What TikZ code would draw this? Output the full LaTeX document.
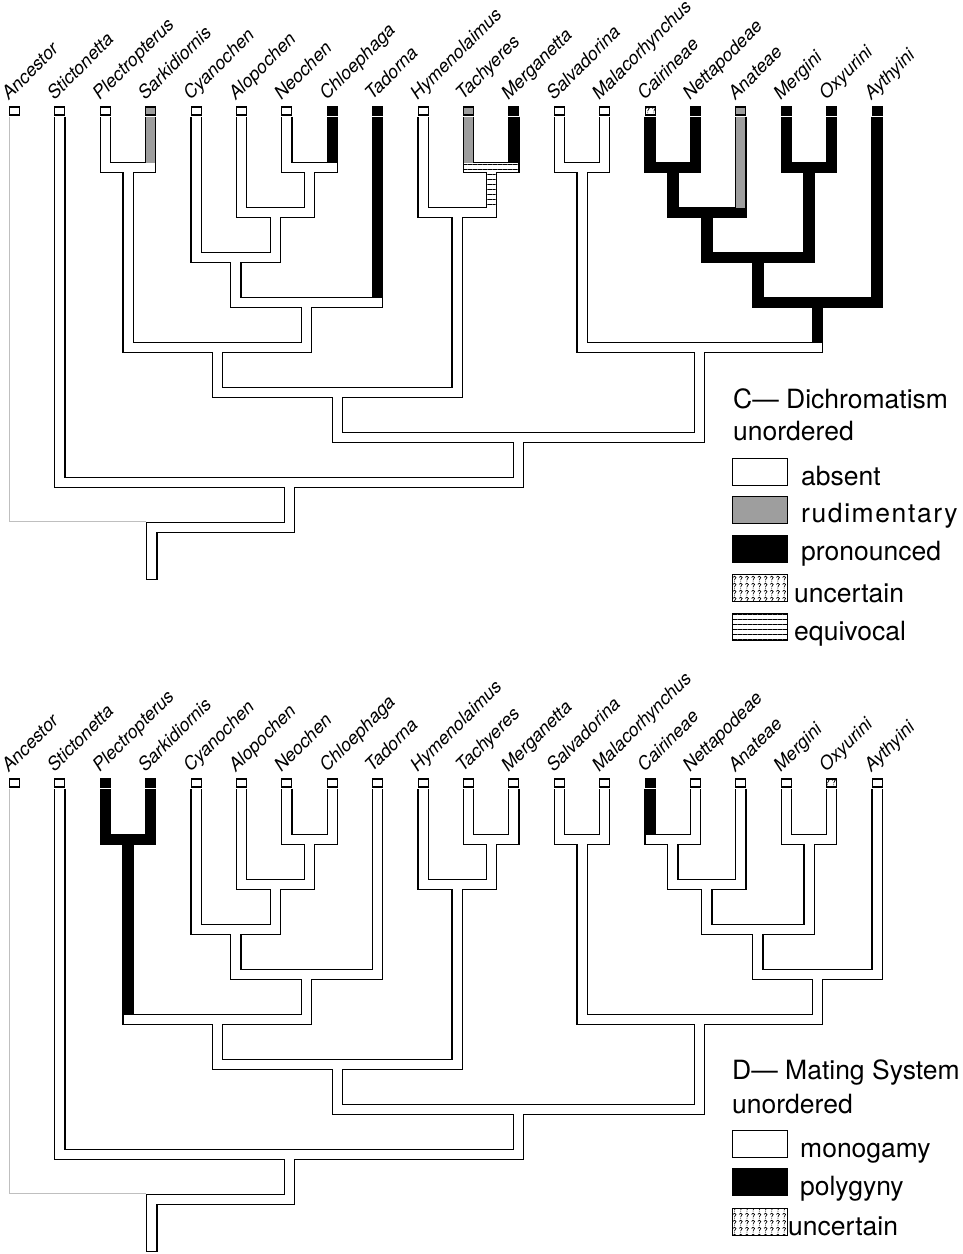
\documentclass[tikz,border=0pt]{standalone}
\usepackage{fontspec}
\setmainfont{TeX Gyre Heros}
\usetikzlibrary{calc,patterns,patterns.meta}

% small question-mark tile for the "uncertain" state
\pgfdeclarepatternformonly{qmarks}{\pgfpoint{-1pt}{-1pt}}{\pgfpoint{7pt}{8pt}}{\pgfpoint{6.2pt}{7pt}}{%
  \pgfsetlinewidth{0.7pt}%
  \pgfpathmoveto{\pgfpoint{1.4pt}{4.6pt}}%
  \pgfpathcurveto{\pgfpoint{1.4pt}{6.2pt}}{\pgfpoint{4.4pt}{6.2pt}}{\pgfpoint{4.4pt}{4.6pt}}%
  \pgfpathcurveto{\pgfpoint{4.4pt}{3.6pt}}{\pgfpoint{2.9pt}{3.5pt}}{\pgfpoint{2.9pt}{2.2pt}}%
  \pgfusepath{stroke}%
  \pgfpathcircle{\pgfpoint{2.9pt}{0.9pt}}{0.5pt}%
  \pgfusepath{fill}%
}

\tikzset{
  tubeout/.style={draw=black,line width=11.4pt,line join=miter,line cap=butt},
  tubein/.style={draw=white,line width=9pt,line join=miter,line cap=butt},
  faint/.style={draw=black!25,line width=0.8pt},
  tipbox/.style={draw=black,line width=1.1pt,fill=white,minimum width=10pt,minimum height=8pt,inner sep=0pt,outer sep=0pt},
  taxon/.style={rotate=45,anchor=base west,inner sep=0pt,font=\fontsize{18.2}{20}\selectfont\itshape},
  legtext/.style={anchor=base west,inner sep=0pt,font=\fontsize{26.5}{30}\selectfont},
  legbox/.style={draw=black,line width=1pt,minimum width=55pt,minimum height=27pt,inner sep=0pt,outer sep=0pt,anchor=north west},
  rud/.style={fill=black!38},
  pron/.style={fill=black},
  unc/.style={preaction={fill=white},pattern=qmarks,pattern color=black},
  equiv/.style={preaction={fill=white},pattern={Lines[angle=0,distance=5pt,line width=0.9pt]},pattern color=black},
}

% tips, labels and branch points of one cladogram; #2 shifts it down
\newcommand\maketree[2]{%
  \foreach \i/\x/\nm in {0/14.5/Ancestor,1/59.9/Stictonetta,2/105.3/Plectropterus,3/150.7/Sarkidiornis,
      4/196.1/Cyanochen,5/241.5/Alopochen,6/286.9/Neochen,7/332.3/Chloephaga,8/377.7/Tadorna,
      9/423.1/Hymenolaimus,10/468.5/Tachyeres,11/513.9/Merganetta,12/559.3/Salvadorina,
      13/604.7/Malacorhynchus,14/650.1/Cairineae,15/695.5/Nettapodeae,16/740.9/Anateae,
      17/786.3/Mergini,18/831.7/Oxyurini,19/877.1/Aythyini}{%
    \coordinate (#1t\i) at (\x,116.5+#2);
    \node[tipbox] (#1b\i) at (\x,111+#2) {};
    \node[taxon] (#1n\i) at (\x-5.5,101+#2) {\nm};
  }
  \foreach \n/\x/\y in {A/128/167.5,B/309.6/167.5,C/275.55/212.5,D/235.8/257.5,E/306.75/302.5,
      F/217.4/347.5,H/491.2/167.5,G/457.15/212.5,I/337.3/392.5,J/582/167.5,K/672.8/167.5,
      L/706.85/212.5,M/809/167.5,N/757.9/257.5,O/817.5/302.5,P/699.75/347.5,Q/518.5/437.5,
      R/289.2/482.5,root/151.85/527.5,end/151.85/580}{%
    \coordinate (#1\n) at (\x,\y+#2);
  }
  \coordinate (#1a0) at (9,116.5+#2);
  \coordinate (#1aj) at (146.15,521.8+#2);
}

% every branch: child down to the parent's level, then across to the parent
\newcommand\treepaths[2]{%
  \foreach \c/\p in {t1/R,t2/A,t3/A,t4/D,t5/C,t6/B,t7/B,t8/E,t9/G,t10/H,t11/H,t12/J,t13/J,
      t14/K,t15/K,t16/L,t17/M,t18/M,t19/O,A/F,B/C,C/D,D/E,E/F,F/I,H/G,G/I,I/Q,J/P,K/L,
      L/N,M/N,N/O,O/P,P/Q,Q/R}{%
    \draw[#2] (#1\c) |- (#1\p);
  }
  \draw[#2] (#1R) |- (#1root) -- (#1end);
}

\newcommand\treebase[1]{%
  \draw[line width=1.2pt] ($(#1end)+(-5.7,-0.6)$) -- ($(#1end)+(5.7,-0.6)$);
  \draw[faint] (#1a0) |- (#1aj);
}

% state fills: vertical part of a branch, horizontal bar of a branch point, tip box
\newcommand\tubeseg[3]{\fill[#1] ($(#2)+(-4.5,0)$) rectangle ($(#2|-#3)+(4.5,-4.5)$);}
\newcommand\tubebar[4]{\fill[#1] ($(#2|-#4)+(-4.5,-4.5)$) rectangle ($(#3|-#4)+(4.5,4.5)$);}
\newcommand\tipfill[2]{\path[draw=black,line width=1.1pt,#1] (#2.south west) rectangle (#2.north east);}

\begin{document}
\begin{tikzpicture}[x=1pt,y=-1pt]
\useasboundingbox[fill=white] (0,0) rectangle (963,1254);

% ---------- C: dichromatism ----------
\maketree{c-}{0}
\treepaths{c-}{tubeout}
\treepaths{c-}{tubein}
\treebase{c-}

\tipfill{rud}{c-b3}   \tubeseg{rud}{c-t3}{c-A}
\tipfill{pron}{c-b7}  \tubeseg{pron}{c-t7}{c-B}
\tipfill{pron}{c-b8}  \tubeseg{pron}{c-t8}{c-E}
\tipfill{rud}{c-b10}  \tubeseg{rud}{c-t10}{c-H}
\tipfill{pron}{c-b11} \tubeseg{pron}{c-t11}{c-H}
\tubebar{equiv}{c-t10}{c-t11}{c-H}
\fill[equiv] ($(c-H)+(-4.5,4.5)$) rectangle ($(c-H|-c-G)+(4.5,-4.5)$);
\tipfill{unc}{c-b14}  \tubeseg{pron}{c-t14}{c-K}
\tipfill{pron}{c-b15} \tubeseg{pron}{c-t15}{c-K}
\tubebar{pron}{c-t14}{c-t15}{c-K} \tubeseg{pron}{c-K}{c-L}
\tipfill{rud}{c-b16}  \tubeseg{rud}{c-t16}{c-L}
\tubebar{pron}{c-K}{c-t16}{c-L}   \tubeseg{pron}{c-L}{c-N}
\tipfill{pron}{c-b17} \tubeseg{pron}{c-t17}{c-M}
\tipfill{pron}{c-b18} \tubeseg{pron}{c-t18}{c-M}
\tubebar{pron}{c-t17}{c-t18}{c-M} \tubeseg{pron}{c-M}{c-N}
\tubebar{pron}{c-L}{c-M}{c-N}     \tubeseg{pron}{c-N}{c-O}
\tipfill{pron}{c-b19} \tubeseg{pron}{c-t19}{c-O}
\tubebar{pron}{c-N}{c-t19}{c-O}   \tubeseg{pron}{c-O}{c-P}

% legend C
\node[legtext] (c-title) at (733,408) {C— Dichromatism};
\node[legtext] (c-sub) at (733,440) {unordered};
\node[legbox,fill=white] (c-k1) at (732,458.5) {};
\node[legtext] (c-l1) at (801,485) {absent};
\node[legbox,rud] (c-k2) at (732,496.5) {};
\node[legtext] (c-l2) at (801,522) {\addfontfeature{LetterSpace=6}rudimentary};
\node[legbox,pron] (c-k3) at (732,535) {};
\node[legtext] (c-l3) at (801,560) {pronounced};
\node[legbox,unc] (c-k4) at (732,574.5) {};
\node[legtext] (c-l4) at (794,602) {uncertain};
\node[legbox,equiv] (c-k5) at (732,613.5) {};
\node[legtext] (c-l5) at (794,640) {equivocal};

% ---------- D: mating system ----------
\maketree{d-}{672}
\treepaths{d-}{tubeout}
\treepaths{d-}{tubein}
\treebase{d-}

\tipfill{pron}{d-b2} \tubeseg{pron}{d-t2}{d-A}
\tipfill{pron}{d-b3} \tubeseg{pron}{d-t3}{d-A}
\tubebar{pron}{d-t2}{d-t3}{d-A} \tubeseg{pron}{d-A}{d-F}
\tipfill{pron}{d-b14} \tubeseg{pron}{d-t14}{d-K}
\tipfill{unc}{d-b18}

% legend D
\node[legtext] (d-title) at (732,1079) {D— Mating System};
\node[legtext] (d-sub) at (732,1113) {unordered};
\node[legbox,fill=white] (d-k1) at (732,1130.5) {};
\node[legtext] (d-l1) at (800,1157) {monogamy};
\node[legbox,pron] (d-k2) at (732,1168.5) {};
\node[legtext] (d-l2) at (800,1195) {polygyny};
\node[legbox,unc] (d-k3) at (732,1208.5) {};
\node[legtext] (d-l3) at (788,1235) {uncertain};
\end{tikzpicture}
\end{document}
